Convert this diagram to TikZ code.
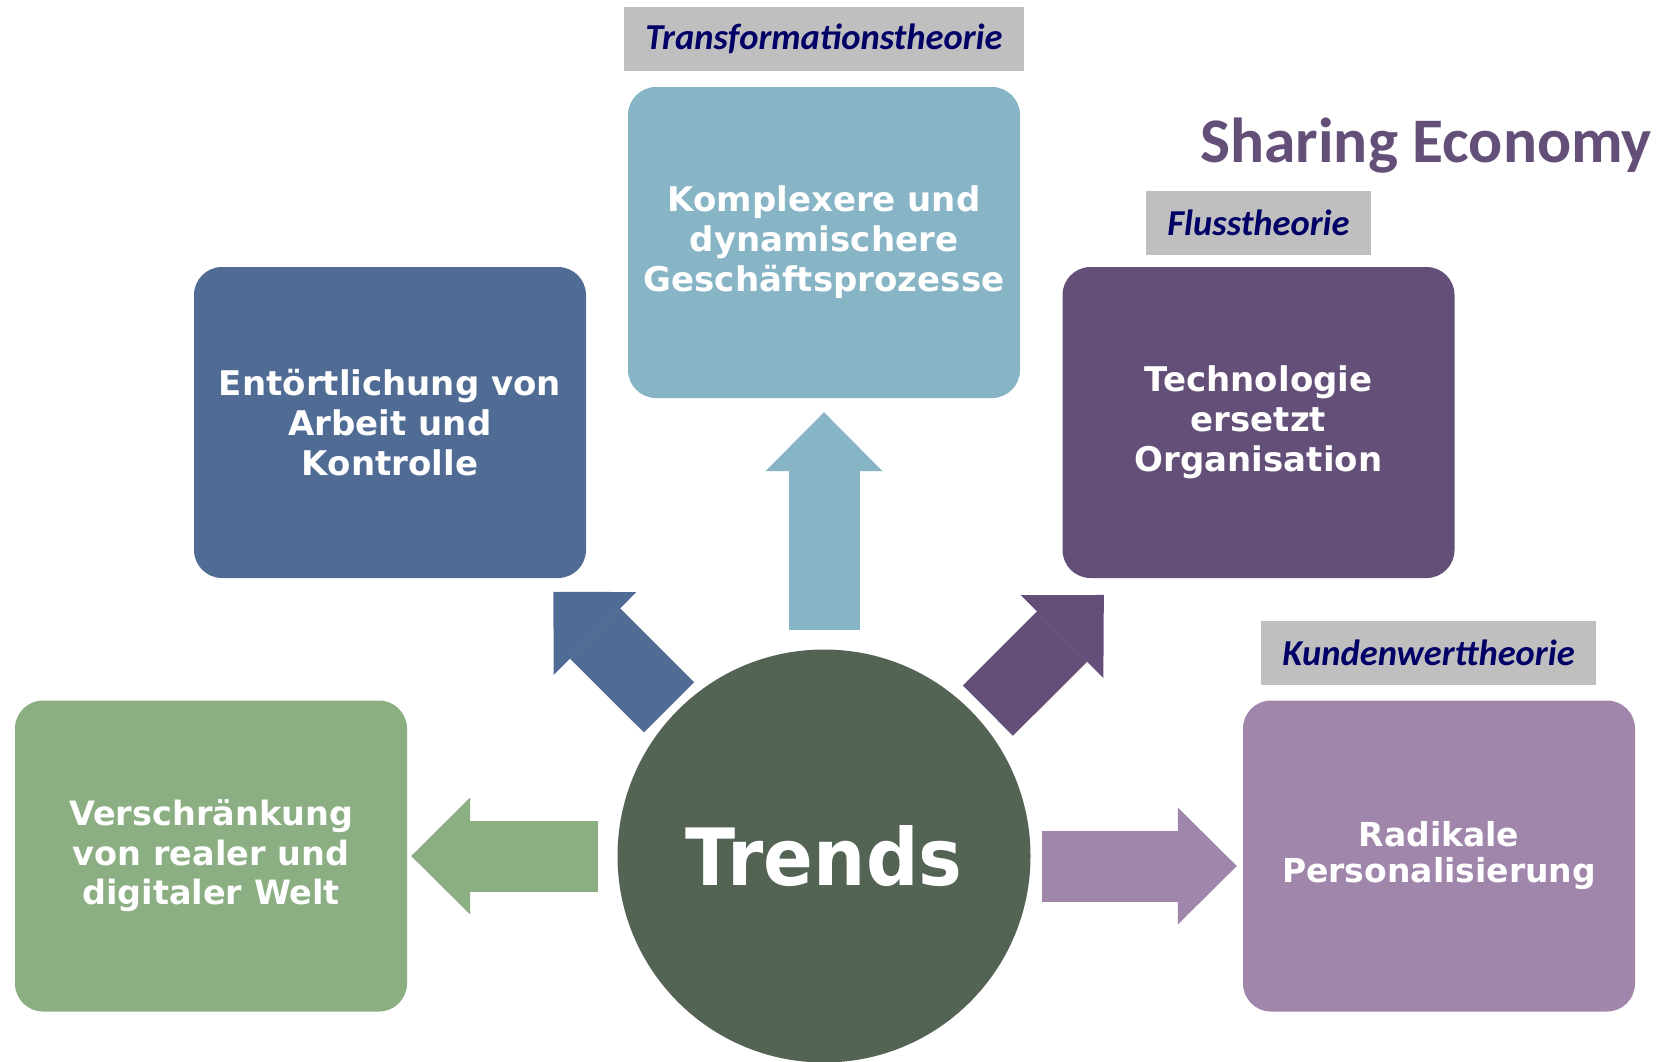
\documentclass[tikz,border=0pt]{standalone}
\usepackage{fontspec}
\setmainfont{DejaVu Sans}
\newfontfamily\calibri{Carlito}
\newfontfamily\trendfont[FakeStretch=0.93]{DejaVu Sans}
\usetikzlibrary{arrows.meta, positioning}

\definecolor{hellblau}{HTML}{87B5C6}
\definecolor{blaugrau}{HTML}{506C94}
\definecolor{dunkellila}{HTML}{634F77}
\definecolor{helllila}{HTML}{A086AA}
\definecolor{gruen}{HTML}{8BAE82}
\definecolor{trendgrau}{HTML}{546454}
\definecolor{labelgrau}{HTML}{BFBFBF}
\definecolor{tiefblau}{HTML}{000066}

\begin{document}
\begin{tikzpicture}[x=1pt, y=-1pt,
		kasten/.style={rounded corners=28pt, minimum width=392pt, minimum height=311pt,
			inner sep=0pt, text=white, align=center,
			font=\bfseries\fontsize{34}{40}\selectfont},
		theorie/.style={fill=labelgrau, text=tiefblau, minimum height=64pt,
			inner xsep=21pt, inner ysep=0pt,
			font=\calibri\bfseries\itshape\fontsize{36.5}{40}\selectfont},
		pfeil/.style={line width=71pt,
			-{Triangle[width=117pt, length=59pt, line width=0pt]}}]

		\useasboundingbox[fill=white] (0,0) rectangle (1673,1061);

		% Mitte
		\node[circle, fill=trendgrau, minimum size=413pt, inner sep=0pt, text=white,
			font=\trendfont\bfseries\fontsize{79}{80}\selectfont] (trends) at (824,856) {Trends};

		% die fuenf Kaesten
		\node[kasten, fill=hellblau] (prozesse) at (824,242.5) {Komplexere und\\dynamischere\\Geschäftsprozesse};
		\node[kasten, fill=blaugrau] (arbeit) at (390,422.5) {Entörtlichung von\\Arbeit und\\Kontrolle};
		\node[kasten, fill=dunkellila] (technik) at (1258.5,422.5) {Technologie\\ersetzt\\Organisation};
		\node[kasten, fill=gruen, font=\bfseries\fontsize{33.5}{39.5}\selectfont] (welt) at (211,856) {Verschränkung\\von realer und\\digitaler Welt};
		\node[kasten, fill=helllila, font=\bfseries\fontsize{33}{36}\selectfont] (kunde) at (1439,856) {Radikale\\Personalisierung};

		% Theorien
		\node[theorie, above=16pt of prozesse] (transformation) {Transformationstheorie};
		\node[theorie, above=12pt of technik] (fluss) {Flusstheorie};
		\node[theorie, above=15pt of kunde, xshift=-10.5pt] (kundenwert) {Kundenwerttheorie};

		\node[anchor=base, inner sep=0pt, text=dunkellila,
			font=\calibri\bfseries\fontsize{63.5}{70}\selectfont] (sharing) at (1426,162) {Sharing Economy};

		% Pfeile
		\draw[pfeil, hellblau, shorten <=19pt, shorten >=14pt] (trends) -- (prozesse);
		\draw[pfeil, gruen, shorten <=19pt, shorten >=4pt] (trends) -- (welt);
		\draw[pfeil, helllila, shorten <=11.5pt, shorten >=6pt] ([yshift=-10pt]trends.east) -- ([yshift=-10pt]kunde.west);
		\draw[pfeil, blaugrau, shorten <=8pt, shorten >=15pt,
			transform canvas={shift={(-3pt,-3pt)}}] (trends) -- (arbeit);
		\draw[pfeil, dunkellila, shorten <=12pt, shorten >=11pt,
			transform canvas={shift={(9pt,-9pt)}}] (trends) -- (technik);
	\end{tikzpicture}
\end{document}
